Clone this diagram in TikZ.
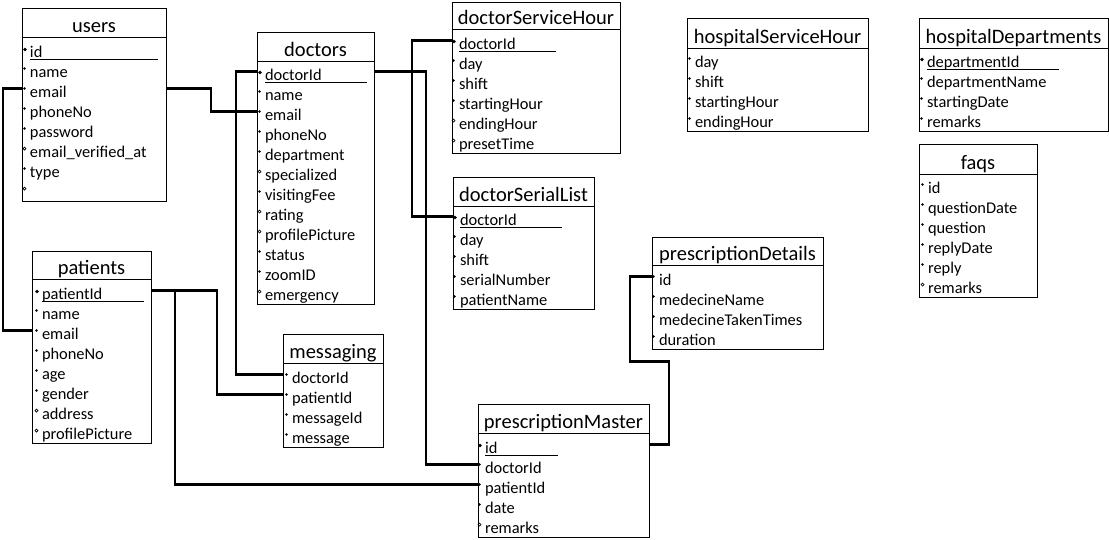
\documentclass[tikz,border=0pt]{standalone}
\usepackage{fontspec}
\setmainfont{Carlito}
\newcommand\fieldfont{\fontsize{16.4}{20}\selectfont}
\newcommand\titlefont{\fontsize{20.5}{24}\selectfont}
\tikzset{
  tbox/.style={draw, line width=1pt, inner sep=0pt, outer sep=0pt, anchor=north west},
  ttl/.style={font=\titlefont, inner sep=0pt, anchor=base},
  fldtxt/.style={font=\fieldfont, inner sep=0pt, outer sep=0pt, anchor=west, text height=17pt, text depth=0pt},
  divline/.style={line width=1pt},
  keyline/.style={line width=1pt},
  conn/.style={line width=2.6pt},
}
\newcommand\mktable[7]{%
  \node[tbox, minimum width={(#4-#2)*1pt}, minimum height={(#5-#3)*1pt}] (#1) at (#2,#3) {};
  \node[ttl] (#1-h) at ({(#2+#4)/2},{#6-4.5}) {#7};
  \coordinate (#1-d) at (#2,#6);
  \draw[divline] (#1-d) -- (#1-d -| #1.east);
}
\newcommand\mkk[1]{\fill ([xshift=-5pt,yshift=-1pt]#1.west) circle (1.8pt);}
\newcommand\mkr[1]{\fill ([xshift=-5.5pt]#1.west) circle (1.3pt);}
\newcommand\mko[1]{\draw[line width=0.7pt] ([xshift=-5.5pt]#1.west) circle (1.5pt);}
\newcommand\fields[4]{%
  \foreach \t/\i/\txt [count=\n from 0] in {#4} {
    \node[fldtxt] (#1-\i) at (#2,{#3+20*\n-8.5}) {\txt};
    \csname mk\t\endcsname{#1-\i}
  }
}
\newcommand\keyul[2]{\draw[keyline] ([yshift=-10.8pt]#1.west) -- ++(#2,0);}
\begin{document}
\begin{tikzpicture}[x=1pt,y=-1pt]
\fill[white] (0,0) rectangle (1109,539);
\useasboundingbox (0,0) rectangle (1109,539);

% users
\mktable{users}{22}{8}{166}{201}{37}{users}
\fields{users}{30}{57}{k/id/id, r/name/name, r/email/email, r/phoneNo/phoneNo, r/password/password, o/emailv/email\_verified\_at, r/type/type, o/blank/{}}
\keyul{users-id}{128}

% doctors
\mktable{doctors}{257}{32}{374}{304}{61}{doctors}
\fields{doctors}{265}{80}{k/doctorId/doctorId, r/name/name, r/email/email, r/phoneNo/phoneNo, r/department/department, o/specialized/specialized, r/visitingFee/visitingFee, o/rating/rating, o/profilePicture/profilePicture, r/status/status, r/zoomID/zoomID, o/emergency/emergency}
\keyul{doctors-doctorId}{102}

% patients
\mktable{patients}{32}{251}{151}{443}{279}{patients}
\fields{patients}{42}{299}{k/patientId/patientId, r/name/name, r/email/email, r/phoneNo/phoneNo, r/age/age, r/gender/gender, o/address/address, o/profilePicture/profilePicture}
\keyul{patients-patientId}{102}

% messaging
\mktable{messaging}{283}{334}{383}{447}{363}{messaging}
\fields{messaging}{292}{383}{r/doctorId/doctorId, r/patientId/patientId, r/messageId/messageId, r/message/message}

% doctorServiceHour
\mktable{dsh}{452}{2}{620}{153}{29}{doctorServiceHour}
\fields{dsh}{459}{49}{k/doctorId/doctorId, r/day/day, r/shift/shift, r/startingHour/startingHour, o/endingHour/endingHour, o/presetTime/presetTime}
\keyul{dsh-doctorId}{97}

% doctorSerialList
\mktable{dsl}{453}{177}{594}{309}{206}{doctorSerialList}
\fields{dsl}{460}{225}{k/doctorId/doctorId, r/day/day, r/shift/shift, r/serialNumber/serialNumber, r/patientName/patientName}
\keyul{dsl-doctorId}{102}

% prescriptionDetails
\mktable{pd}{652}{237}{823}{349}{265}{prescriptionDetails}
\fields{pd}{659}{285}{r/id/id, r/medecineName/medecineName, r/medecineTakenTimes/medecineTakenTimes, r/duration/duration}

% prescriptionMaster
\mktable{pm}{478}{404}{649}{537}{433}{prescriptionMaster}
\fields{pm}{485}{453}{k/id/id, r/doctorId/doctorId, r/patientId/patientId, r/date/date, o/remarks/remarks}
\keyul{pm-id}{73}

% hospitalServiceHour
\mktable{hsh}{687}{18}{868}{131}{48}{hospitalServiceHour}
\fields{hsh}{695}{67}{r/day/day, r/shift/shift, r/startingHour/startingHour, r/endingHour/endingHour}

% hospitalDepartments
\mktable{hd}{919}{18}{1108}{131}{48}{hospitalDepartments}
\fields{hd}{927}{67}{k/departmentId/departmentId, r/departmentName/departmentName, r/startingDate/startingDate, r/remarks/remarks}
\keyul{hd-departmentId}{132}

% faqs
\mktable{faqs}{919}{144}{1037}{297}{174}{faqs}
\fields{faqs}{928}{193}{r/id/id, r/questionDate/questionDate, r/question/question, r/replyDate/replyDate, r/reply/reply, o/remarks/remarks}

% connectors
\draw[conn] (users.east |- users-email.west) -- ++(45,0) |- (doctors.west |- doctors-email.west);
\draw[conn] (users.west |- users-email.west) -- ++(-19,0) |- (patients.west |- patients-email.west);
\draw[conn] (doctors.west |- doctors-doctorId.west) -- ++(-21,0) |- (messaging.west |- messaging-doctorId.west);
\draw[conn] (patients.east |- patients-patientId.west) -- ++(66,0) |- (messaging.west |- messaging-patientId.west);
\draw[conn] (patients.east |- patients-patientId.west) -- ++(24,0) |- (pm.west |- pm-patientId.west);
\draw[conn] (doctors.east |- doctors-doctorId.west) -- ++(52,0) |- (pm.west |- pm-doctorId.west);
\draw[conn] (dsh.west |- dsh-doctorId.west) -- ++(-40,0) |- (dsl.west |- dsl-doctorId.west);
\draw[conn] (pm.east |- pm-id.west) -- ++(20,0) -- ++(0,-83) -- ++(-39,0) |- (pd.west |- pd-id.west);
\end{tikzpicture}
\end{document}
